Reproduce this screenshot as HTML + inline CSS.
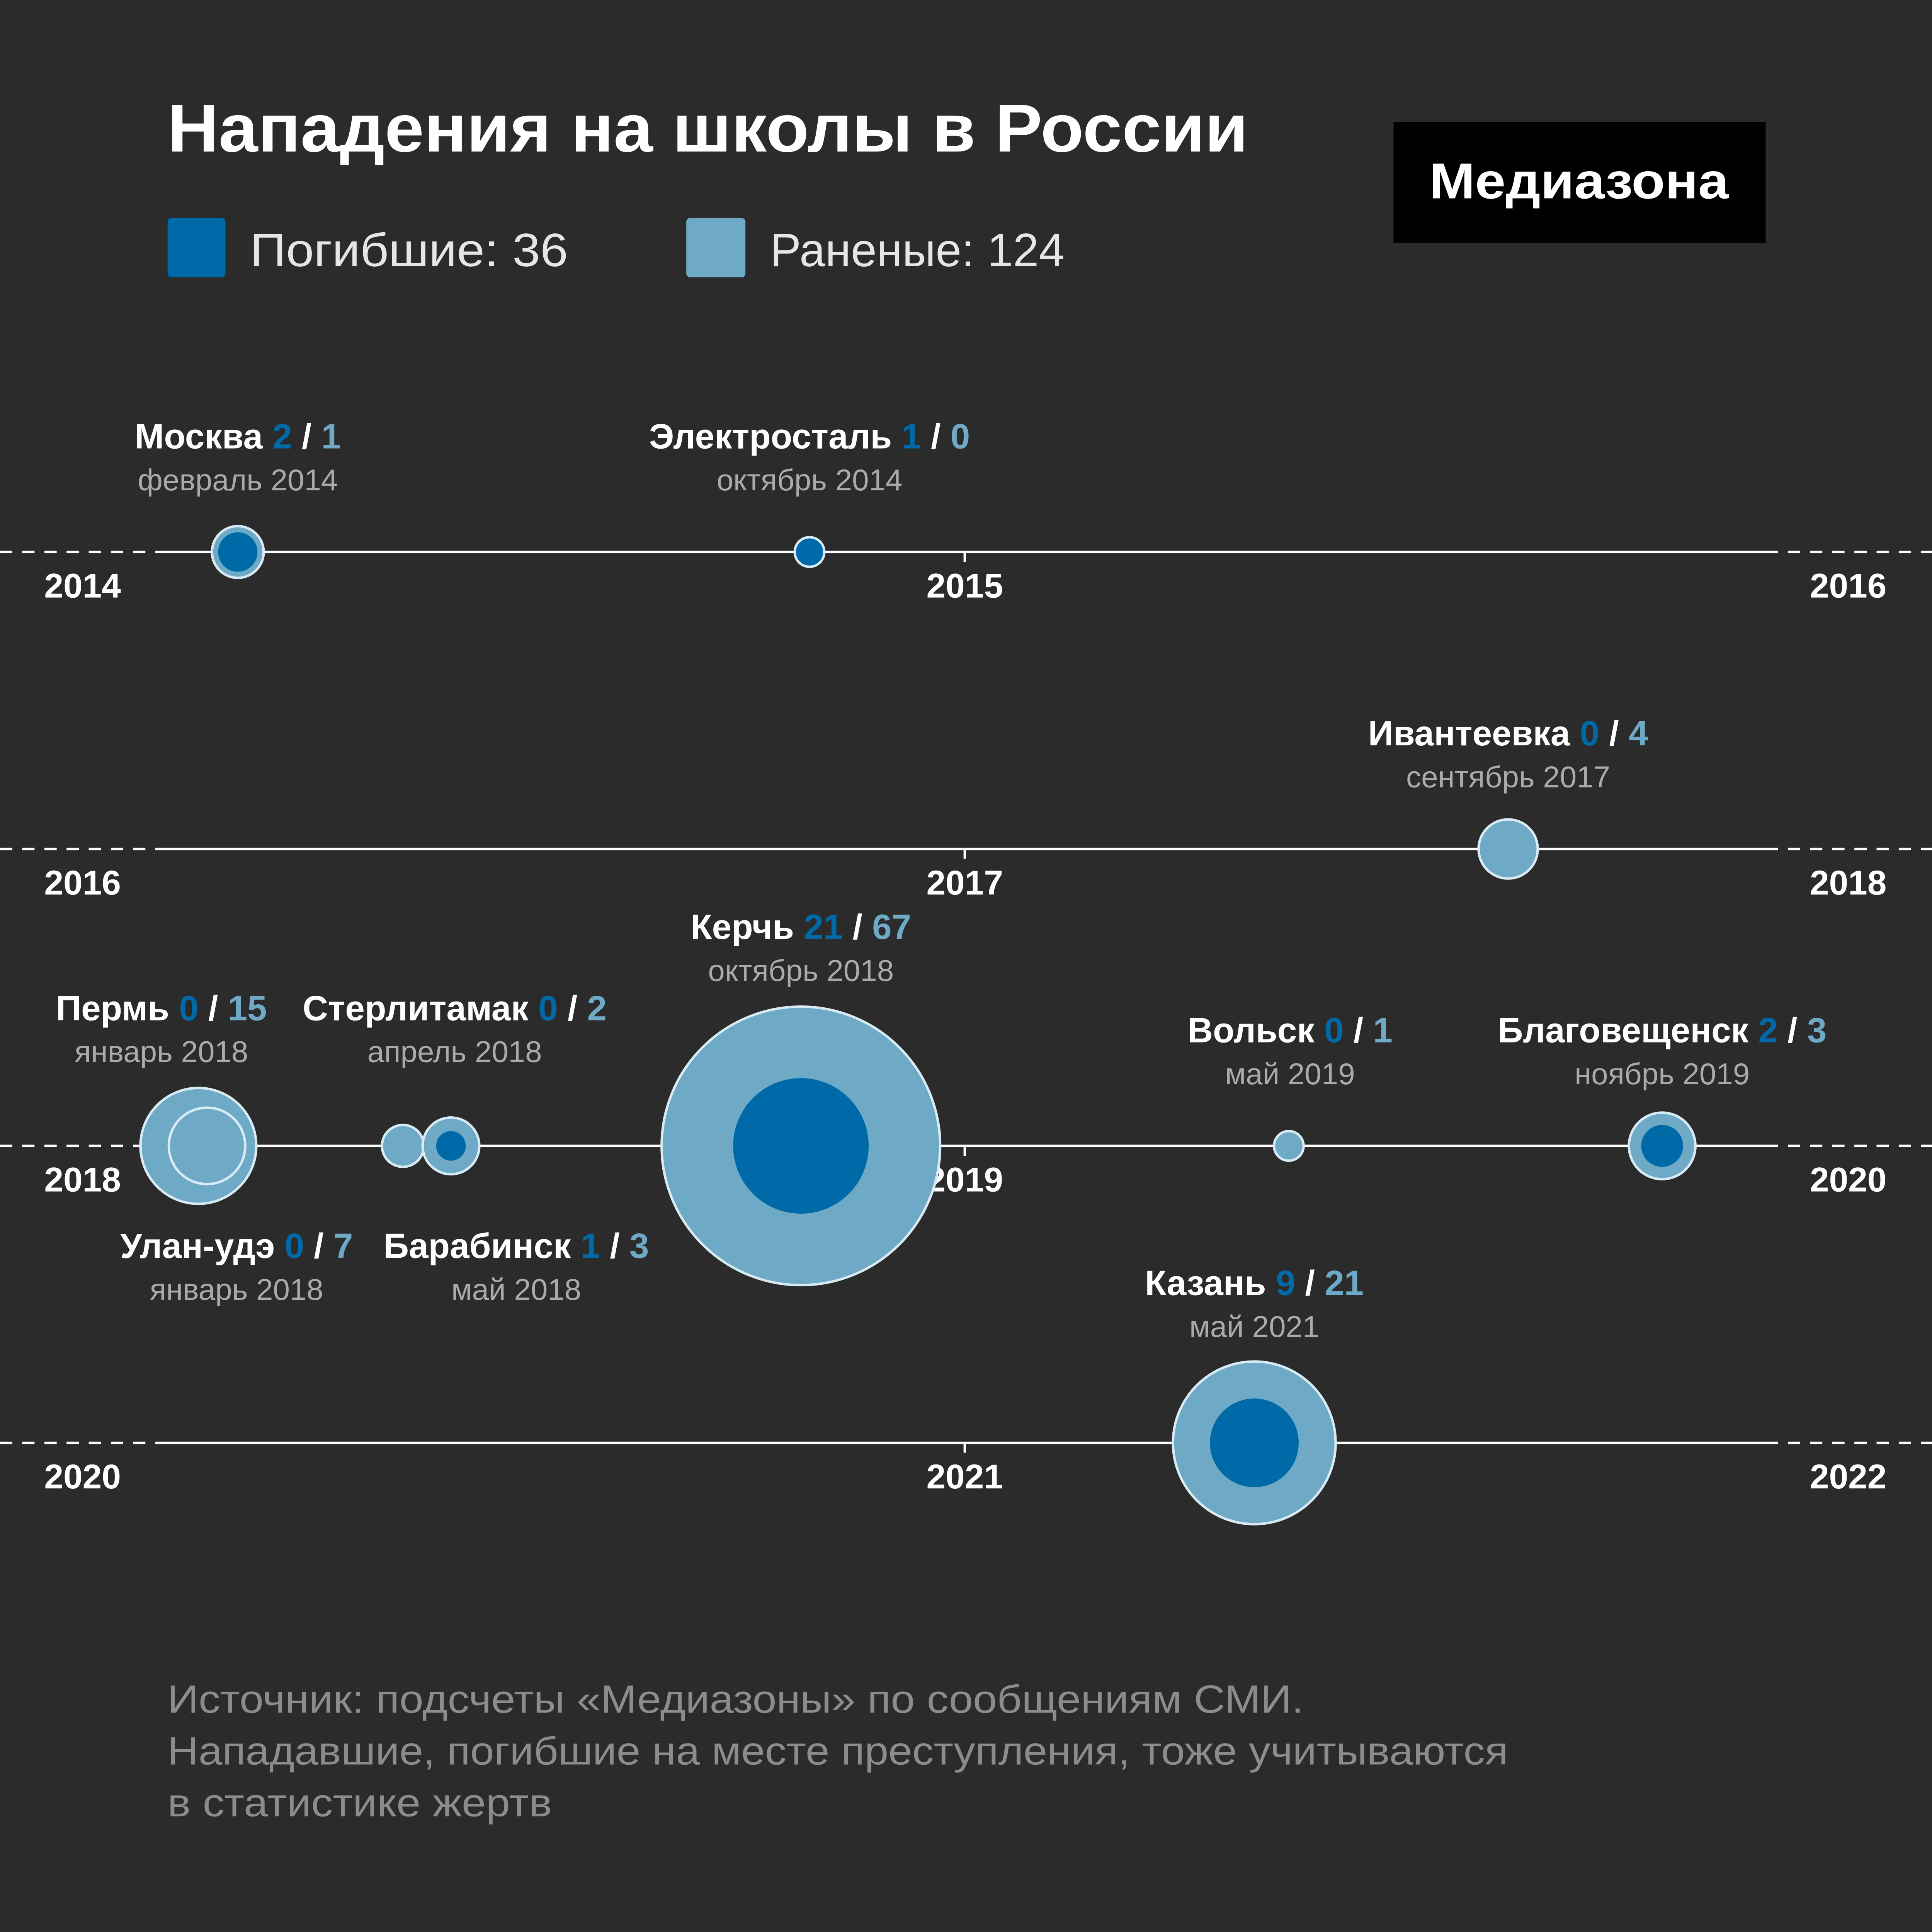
<!DOCTYPE html>
<html><head><meta charset="utf-8"><style>
html,body{margin:0;padding:0;background:#2b2b2b;width:100vw;height:100vh;overflow:hidden}
svg{display:block;position:fixed;left:0;top:0;width:100vw;height:100vh}
text{font-family:"Liberation Sans","DejaVu Sans",sans-serif}
.n{font-size:28.5px;font-weight:bold;fill:#fff;text-anchor:middle}
.d{font-size:24.5px;fill:#aaaaaa;text-anchor:middle}
.y{font-size:28px;font-weight:bold;fill:#fff;text-anchor:middle}
.k{fill:#006aa9}.w{fill:#6ea9c6}
.L{fill:#6ea9c6;stroke:#d8eaf3;stroke-width:2}
.D{fill:#006aa9}
</style></head><body>
<svg viewBox="0 0 1568 1568" preserveAspectRatio="none" xmlns="http://www.w3.org/2000/svg">
<rect width="1568" height="1568" fill="#2b2b2b"/>
<text x="136" y="123" font-size="55" font-weight="bold" fill="#fff" textLength="877" lengthAdjust="spacingAndGlyphs">Нападения на школы в России</text>
<rect x="1131" y="99" width="302" height="98" fill="#000"/>
<text x="1160" y="161" font-size="41" font-weight="bold" fill="#fff" textLength="243" lengthAdjust="spacingAndGlyphs">Медиазона</text>
<rect x="136" y="177" width="47" height="48" rx="3" fill="#006aa9"/>
<text x="203" y="216" font-size="38" fill="#e6e6e6" textLength="258" lengthAdjust="spacingAndGlyphs">Погибшие: 36</text>
<rect x="557" y="177" width="48" height="48" rx="3" fill="#6ea9c6"/>
<text x="625" y="216" font-size="38" fill="#e6e6e6" textLength="239" lengthAdjust="spacingAndGlyphs">Раненые: 124</text>

<g stroke="#fff" stroke-width="2">
<g stroke-dasharray="10 8">
<line x1="0" y1="448" x2="130" y2="448"/><line x1="1433" y1="448" x2="1568" y2="448"/>
<line x1="0" y1="689" x2="130" y2="689"/><line x1="1433" y1="689" x2="1568" y2="689"/>
<line x1="0" y1="930" x2="130" y2="930"/><line x1="1433" y1="930" x2="1568" y2="930"/>
<line x1="0" y1="1171" x2="130" y2="1171"/><line x1="1433" y1="1171" x2="1568" y2="1171"/>
</g>
<line x1="130" y1="448" x2="1433" y2="448"/><line x1="130" y1="689" x2="1433" y2="689"/>
<line x1="130" y1="930" x2="1433" y2="930"/><line x1="130" y1="1171" x2="1433" y2="1171"/>
<line x1="783" y1="448" x2="783" y2="456"/><line x1="783" y1="689" x2="783" y2="697"/>
<line x1="783" y1="930" x2="783" y2="938"/><line x1="783" y1="1171" x2="783" y2="1179"/>
</g>
<text class="y" x="67" y="485">2014</text><text class="y" x="783" y="485">2015</text><text class="y" x="1500" y="485">2016</text>
<text class="y" x="67" y="726">2016</text><text class="y" x="783" y="726">2017</text><text class="y" x="1500" y="726">2018</text>
<text class="y" x="67" y="967">2018</text><text class="y" x="783" y="967">2019</text><text class="y" x="1500" y="967">2020</text>
<text class="y" x="67" y="1208">2020</text><text class="y" x="783" y="1208">2021</text><text class="y" x="1500" y="1208">2022</text>

<circle class="L" cx="193" cy="448" r="21"/><circle class="D" cx="193" cy="448" r="16"/>
<circle cx="657" cy="448" r="12" fill="#006aa9" stroke="#d8eaf3" stroke-width="2"/>
<circle class="L" cx="1224" cy="689" r="24"/>
<circle class="L" cx="161" cy="930" r="47"/><circle class="L" cx="168" cy="930" r="31"/>
<circle class="L" cx="327" cy="930" r="17"/>
<circle class="L" cx="366" cy="930" r="23"/><circle class="D" cx="366" cy="930" r="12"/>
<circle class="L" cx="650" cy="930" r="113"/><circle class="D" cx="650" cy="930" r="55"/>
<circle class="L" cx="1046" cy="930" r="12"/>
<circle class="L" cx="1349" cy="930" r="27"/><circle class="D" cx="1349" cy="930" r="17"/>
<circle class="L" cx="1018" cy="1171" r="66"/><circle class="D" cx="1018" cy="1171" r="36"/>

<text class="n" x="193" y="364">Москва <tspan class="k">2</tspan> / <tspan class="w">1</tspan></text>
<text class="d" x="193" y="398">февраль 2014</text>
<text class="n" x="657" y="364">Электросталь <tspan class="k">1</tspan> / <tspan class="w">0</tspan></text>
<text class="d" x="657" y="398">октябрь 2014</text>
<text class="n" x="1224" y="605">Ивантеевка <tspan class="k">0</tspan> / <tspan class="w">4</tspan></text>
<text class="d" x="1224" y="639">сентябрь 2017</text>
<text class="n" x="650" y="762">Керчь <tspan class="k">21</tspan> / <tspan class="w">67</tspan></text>
<text class="d" x="650" y="796">октябрь 2018</text>
<text class="n" x="131" y="828">Пермь <tspan class="k">0</tspan> / <tspan class="w">15</tspan></text>
<text class="d" x="131" y="862">январь 2018</text>
<text class="n" x="369" y="828">Стерлитамак <tspan class="k">0</tspan> / <tspan class="w">2</tspan></text>
<text class="d" x="369" y="862">апрель 2018</text>
<text class="n" x="1047" y="846">Вольск <tspan class="k">0</tspan> / <tspan class="w">1</tspan></text>
<text class="d" x="1047" y="880">май 2019</text>
<text class="n" x="1349" y="846">Благовещенск <tspan class="k">2</tspan> / <tspan class="w">3</tspan></text>
<text class="d" x="1349" y="880">ноябрь 2019</text>
<text class="n" x="192" y="1021">Улан-удэ <tspan class="k">0</tspan> / <tspan class="w">7</tspan></text>
<text class="d" x="192" y="1055">январь 2018</text>
<text class="n" x="419" y="1021">Барабинск <tspan class="k">1</tspan> / <tspan class="w">3</tspan></text>
<text class="d" x="419" y="1055">май 2018</text>
<text class="n" x="1018" y="1051">Казань <tspan class="k">9</tspan> / <tspan class="w">21</tspan></text>
<text class="d" x="1018" y="1085">май 2021</text>

<g font-size="32" fill="#8c8c8c">
<text x="136" y="1390" textLength="922" lengthAdjust="spacingAndGlyphs">Источник: подсчеты «Медиазоны» по сообщениям СМИ.</text>
<text x="136" y="1432" textLength="1088" lengthAdjust="spacingAndGlyphs">Нападавшие, погибшие на месте преступления, тоже учитываются</text>
<text x="136" y="1474" textLength="312" lengthAdjust="spacingAndGlyphs">в статистике жертв</text>
</g>
</svg>
</body></html>
